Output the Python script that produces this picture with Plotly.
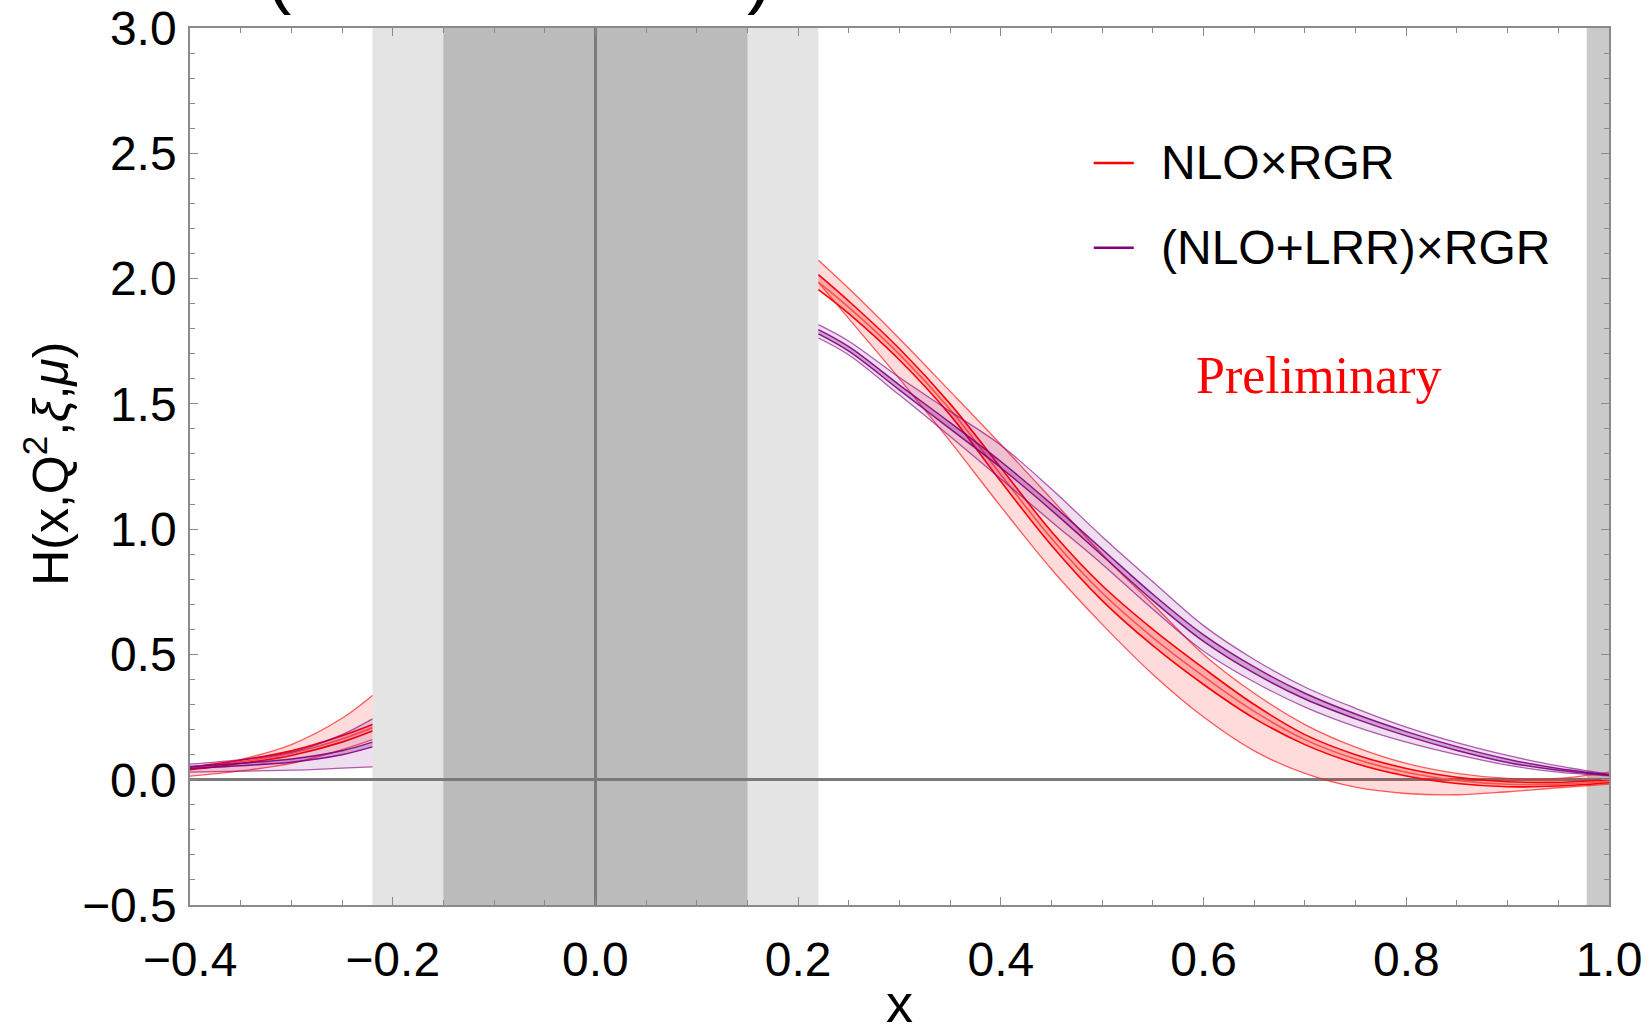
import plotly.graph_objects as go

# ---------------- data ----------------
x_right = [0.22, 0.25, 0.3, 0.35, 0.4, 0.45, 0.5, 0.55, 0.6, 0.65, 0.7, 0.75, 0.8, 0.85, 0.9, 0.95, 1.0]
x_left = [-0.4, -0.35, -0.3, -0.25, -0.22]

# NLO x RGR (red): outer band (A) and inner band (B)
red_A_up = [2.073, 1.96, 1.76, 1.55, 1.338, 1.12, 0.90, 0.70, 0.50, 0.345, 0.22, 0.13, 0.065, 0.025, 0.005, 0.005, 0.03]
red_A_lo = [1.985, 1.84, 1.60, 1.35, 1.09, 0.84, 0.62, 0.42, 0.25, 0.115, 0.025, -0.03, -0.055, -0.06, -0.048, -0.032, -0.018]
red_B_up = [2.016, 1.91, 1.72, 1.50, 1.245, 0.99, 0.775, 0.60, 0.445, 0.30, 0.18, 0.10, 0.045, 0.01, -0.008, -0.01, 0.0]
red_B_lo = [1.956, 1.86, 1.675, 1.455, 1.19, 0.935, 0.715, 0.535, 0.38, 0.245, 0.14, 0.065, 0.015, -0.015, -0.028, -0.025, -0.012]

red_A_up_l = [0.04, 0.08, 0.14, 0.245, 0.336]
red_A_lo_l = [0.014, 0.035, 0.065, 0.12, 0.16]
red_B_up_l = [0.05, 0.078, 0.115, 0.175, 0.22]
red_B_lo_l = [0.04, 0.065, 0.097, 0.15, 0.194]

# (NLO+LRR) x RGR (purple)
pur_A_up = [1.816, 1.75, 1.605, 1.47, 1.335, 1.16, 0.97, 0.79, 0.615, 0.48, 0.37, 0.285, 0.21, 0.148, 0.097, 0.055, 0.022]
pur_B_up = [1.796, 1.728, 1.575, 1.425, 1.27, 1.10, 0.92, 0.74, 0.578, 0.45, 0.345, 0.262, 0.192, 0.132, 0.082, 0.045, 0.02]
pur_B_lo = [1.779, 1.71, 1.555, 1.40, 1.245, 1.075, 0.895, 0.715, 0.552, 0.425, 0.322, 0.243, 0.175, 0.117, 0.069, 0.038, 0.018]
pur_A_lo = [1.763, 1.695, 1.535, 1.37, 1.20, 1.03, 0.86, 0.68, 0.513, 0.39, 0.29, 0.212, 0.15, 0.10, 0.058, 0.03, 0.015]

pur_A_up_l = [0.062, 0.08, 0.11, 0.18, 0.243]
pur_B_up_l = [0.053, 0.066, 0.083, 0.116, 0.15]
pur_B_lo_l = [0.045, 0.056, 0.07, 0.10, 0.131]
pur_A_lo_l = [0.03, 0.034, 0.038, 0.046, 0.051]

series_names = ["NLO×RGR", "(NLO+LRR)×RGR"]
x_ticks = [-0.4, -0.2, 0.0, 0.2, 0.4, 0.6, 0.8, 1.0]
y_ticks = [-0.5, 0.0, 0.5, 1.0, 1.5, 2.0, 2.5, 3.0]
x_title = "x"
y_title = "H(x,Q<sup>2</sup>,<i>ξ</i>,<i>μ</i>)"

# excluded regions
light_region = [-0.22, 0.22]
dark_region = [-0.15, 0.15]
end_region = [0.978, 1.0]

# ---------------- figure ----------------
fig = go.Figure()

def band(x, lo, up, line_col, line_w, fill_col):
    fig.add_trace(go.Scatter(x=x, y=lo, mode="lines", line=dict(color=line_col, width=line_w, shape="spline", smoothing=1.0),
                             showlegend=False, hoverinfo="skip"))
    fig.add_trace(go.Scatter(x=x, y=up, mode="lines", line=dict(color=line_col, width=line_w, shape="spline", smoothing=1.0),
                             fill="tonexty", fillcolor=fill_col, showlegend=False, hoverinfo="skip"))

red_thin = "rgba(255,30,30,0.72)"
red_thick = "rgb(255,0,0)"
pur_thin = "rgba(128,0,128,0.62)"
pur_thick = "rgb(128,0,128)"

for xs, a_lo, a_up, b_lo, b_up in [(x_right, red_A_lo, red_A_up, red_B_lo, red_B_up),
                                   (x_left, red_A_lo_l, red_A_up_l, red_B_lo_l, red_B_up_l)]:
    band(xs, a_lo, a_up, red_thin, 1.3, "rgba(255,0,0,0.14)")
    band(xs, b_lo, b_up, red_thick, 1.6, "rgba(255,0,0,0.22)")
    mid = [(u + l) / 2 for u, l in zip(b_up, b_lo)]
    fig.add_trace(go.Scatter(x=xs, y=mid, mode="lines", line=dict(color="rgb(255,80,80)", width=1.6, shape="spline"),
                             showlegend=False, hoverinfo="skip"))

for xs, a_lo, a_up, b_lo, b_up in [(x_right, pur_A_lo, pur_A_up, pur_B_lo, pur_B_up),
                                   (x_left, pur_A_lo_l, pur_A_up_l, pur_B_lo_l, pur_B_up_l)]:
    band(xs, a_lo, a_up, pur_thin, 1.3, "rgba(128,0,128,0.13)")
    band(xs, b_lo, b_up, "rgba(128,0,128,0.9)", 1.5, "rgba(128,0,128,0.28)")

shapes = [
    dict(type="rect", xref="x", yref="paper", x0=light_region[0], x1=light_region[1], y0=0, y1=1,
         fillcolor="#e4e4e4", line_width=0, layer="below"),
    dict(type="rect", xref="x", yref="paper", x0=dark_region[0], x1=dark_region[1], y0=0, y1=1,
         fillcolor="#bbbbbb", line_width=0, layer="below"),
    dict(type="rect", xref="x", yref="paper", x0=end_region[0], x1=end_region[1], y0=0, y1=1,
         fillcolor="#cacaca", line_width=0, layer="below"),
]

# legend drawn as short line samples + labels
legend_cols = [red_thick, pur_thick]
legend_y = [0.8462, 0.7493]
annotations = []
for name, col, ly in zip(series_names, legend_cols, legend_y):
    shapes.append(dict(type="line", xref="paper", yref="paper", x0=0.6369, x1=0.6651, y0=ly, y1=ly,
                       line=dict(color=col, width=2.5)))
    annotations.append(dict(xref="paper", yref="paper", x=0.6827, y=ly, text=name, showarrow=False,
                            xanchor="left", yanchor="middle",
                            font=dict(family="Liberation Sans, Arial", size=48, color="black")))

annotations.append(dict(xref="x", yref="y", x=0.7135, y=1.615, text="Preliminary", showarrow=False,
                        xanchor="center", yanchor="middle",
                        font=dict(family="Liberation Serif, Times New Roman", size=52, color="red")))
# clipped title (only the bottoms of the parentheses are visible)
for tx, t in [(0.0627, "("), (0.4014, ")")]:
    annotations.append(dict(xref="paper", yref="paper", x=tx, y=1.013, text=t, showarrow=False,
                            xanchor="center", yanchor="bottom",
                            font=dict(family="Liberation Sans, Arial", size=76, color="black")))

# axis titles
annotations.append(dict(xref="paper", yref="paper", x=0.5, y=-0.112, text=x_title, showarrow=False,
                        xanchor="center", yanchor="middle",
                        font=dict(family="Liberation Sans, Arial", size=54, color="black")))
annotations.append(dict(xref="paper", yref="paper", x=-0.1008, y=0.503, text=y_title, showarrow=False,
                        xanchor="center", yanchor="middle", textangle=-90,
                        font=dict(family="Liberation Sans, Arial", size=50, color="black")))

axis_common = dict(showline=True, mirror="ticks", linecolor="#8a8a8a", linewidth=1.5,
                   ticks="inside", ticklen=8, tickwidth=1.2, tickcolor="#8a8a8a",
                   showgrid=False, zeroline=True, zerolinecolor="#7a7a7a", zerolinewidth=2.8,
                   tickfont=dict(family="Liberation Sans, Arial", size=48, color="black"),
                   tickformat=".1f", automargin=False)

fig.update_layout(
    width=1649, height=1027,
    margin=dict(l=190, r=40, t=28, b=122, autoexpand=False),
    paper_bgcolor="white", plot_bgcolor="white",
    showlegend=False,
    shapes=shapes, annotations=annotations,
    xaxis=dict(range=[-0.4, 1.0], tickvals=x_ticks, ticklabelstandoff=12,
               minor=dict(dtick=0.05, ticks="inside", ticklen=5, tickcolor="#8a8a8a", showgrid=False),
               **axis_common),
    yaxis=dict(range=[-0.5, 3.0], tickvals=y_ticks, ticklabelstandoff=2,
               minor=dict(dtick=0.1, ticks="inside", ticklen=5, tickcolor="#8a8a8a", showgrid=False),
               **axis_common),
)

fig.write_html("out.html", config={"displayModeBar": False},
               post_script="document.body.style.margin='0px';")
